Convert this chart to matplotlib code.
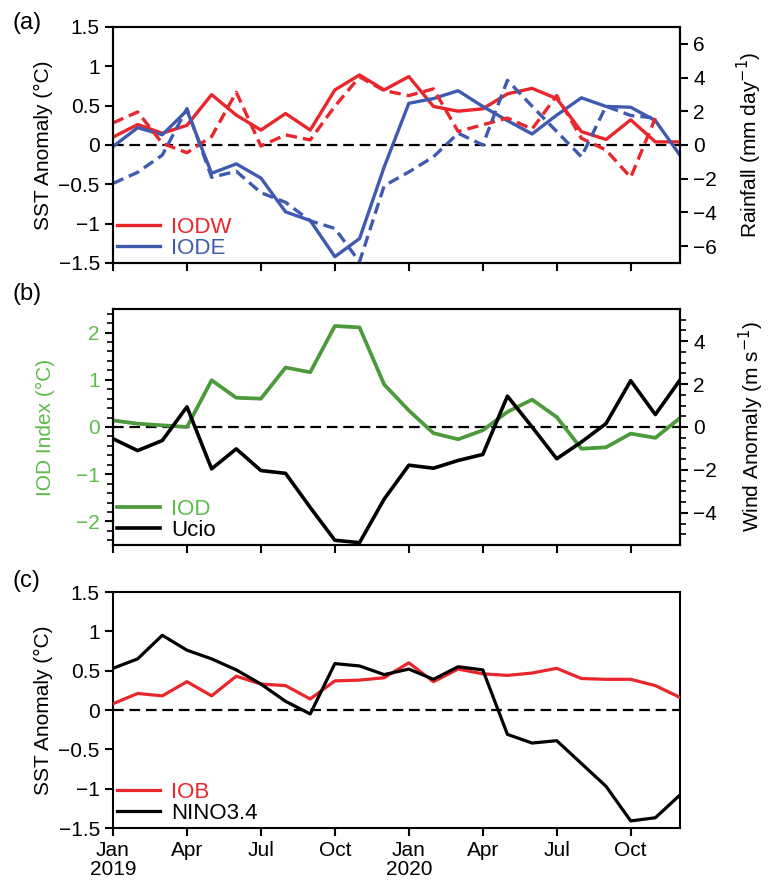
import numpy as np
import matplotlib
matplotlib.use("Agg")
import matplotlib.pyplot as plt

plt.rcParams['font.family'] = ['Liberation Sans', 'DejaVu Sans']
plt.rcParams['font.size'] = 15
plt.rcParams['axes.linewidth'] = 1.5

# monthly index, Jan 2019 .. Dec 2020
months = np.arange(24)
tick_pos = [0, 3, 6, 9, 12, 15, 18, 21]
tick_lab = ['Jan\n2019', 'Apr', 'Jul', 'Oct', 'Jan\n2020', 'Apr', 'Jul', 'Oct']

# (a) SST anomaly (left) and rainfall (right, dashed)
iodw_sst = [0.10, 0.26, 0.15, 0.25, 0.64, 0.38, 0.19, 0.40, 0.19, 0.70, 0.89, 0.70, 0.87,
            0.49, 0.43, 0.46, 0.65, 0.72, 0.59, 0.17, 0.07, 0.32, 0.04, 0.04]
iode_sst = [-0.02, 0.22, 0.13, 0.44, -0.36, -0.24, -0.42, -0.85, -0.96, -1.42, -1.19, -0.28,
            0.53, 0.59, 0.69, 0.49, 0.31, 0.14, 0.38, 0.60, 0.49, 0.48, 0.31, -0.13]
iodw_rain = [1.31, 1.96, 0.1, -0.46, 0.5, 3.13, -0.06, 0.6, 0.3, 2.3, 4.04, 3.23, 2.93,
             3.33, 0.8, 1.2, 1.6, 0.95, 2.93, 0.4, -0.3, -1.92, 1.6]
iode_rain = [-2.28, -1.62, -0.6, 2.16, -1.92, -1.56, -2.83, -3.4, -4.5, -4.95, -6.93, -2.42,
             -1.6, -0.7, 0.7, 0.0, 3.84, 2.3, 0.8, -0.7, 2.3, 1.75, 1.6]

# (b) IOD index (left) and Ucio wind (right)
iod = [0.14, 0.07, 0.035, 0.0, 0.99, 0.62, 0.60, 1.26, 1.16, 2.14, 2.11, 0.90, 0.35,
       -0.13, -0.26, -0.07, 0.32, 0.58, 0.21, -0.46, -0.43, -0.14, -0.23, 0.19]
ucio = [-0.55, -1.1, -0.63, 0.94, -1.95, -1.02, -2.03, -2.16, -3.75, -5.28, -5.39, -3.36,
        -1.78, -1.92, -1.56, -1.28, 1.44, 0.0, -1.48, -0.7, 0.16, 2.16, 0.58, 2.19]

# (c) IOB and NINO3.4
iob = [0.08, 0.21, 0.18, 0.36, 0.18, 0.43, 0.33, 0.31, 0.14, 0.37, 0.38, 0.41, 0.6,
       0.36, 0.52, 0.46, 0.44, 0.47, 0.53, 0.40, 0.39, 0.39, 0.31, 0.16]
nino34 = [0.53, 0.65, 0.95, 0.76, 0.65, 0.51, 0.33, 0.11, -0.05, 0.59, 0.56, 0.45, 0.52,
          0.39, 0.55, 0.51, -0.31, -0.42, -0.39, -0.68, -0.97, -1.41, -1.37, -1.08]

red = '#E8262B'
blue = '#3F5AAE'
green_line = '#4C9A3B'
green_txt = '#5DBB4A'

W, H = 775, 880
fig = plt.figure(figsize=(W / 100, H / 100), dpi=100)


def box(top, bottom, left=113, right=680):
    return [left / W, 1 - bottom / H, (right - left) / W, (bottom - top) / H]


def style(ax, labels=False):
    ax.set_xlim(0, 23)
    ax.set_xticks(tick_pos)
    ax.tick_params(direction='out', length=6, width=1.5)
    if labels:
        ax.set_xticklabels(tick_lab, fontsize=15, linespacing=1.0)
    else:
        ax.set_xticklabels([])
    ax.axhline(0, color='k', lw=1.6, dashes=(4.8, 2.6), zorder=1)


def fmt(vals):
    return [('%g' % v).replace('-', '\u2212') for v in vals]


sst_ticks = [-1.5, -1, -0.5, 0, 0.5, 1, 1.5]
leg_kw = dict(loc='lower left', frameon=False, handlelength=1.9, handletextpad=0.5,
              labelspacing=0.0, borderaxespad=0.0, borderpad=0.2, fontsize=16)

# ---- (a)
ax1 = fig.add_axes(box(27, 263))
style(ax1)
ax1.plot(months, iodw_sst, color=red, lw=2.4, label='IODW', zorder=3)
ax1.plot(months, iode_sst, color=blue, lw=2.4, label='IODE', zorder=3)
ax1.set_ylim(-1.5, 1.5)
ax1.set_yticks(sst_ticks)
ax1.set_yticklabels(fmt(sst_ticks))
ax1.set_ylabel('SST Anomaly (°C)', labelpad=4)
ax1.legend(labelcolor='linecolor', **leg_kw)
ax1r = ax1.twinx()
ax1r.plot(months[:23], iodw_rain, color=red, lw=2.4, dashes=(3.4, 1.8))
ax1r.plot(months[:23], iode_rain, color=blue, lw=2.4, dashes=(3.4, 1.8))
ax1r.set_ylim(-7, 7)
rain_ticks = [-6, -4, -2, 0, 2, 4, 6]
ax1r.set_yticks(rain_ticks)
ax1r.set_yticklabels(fmt(rain_ticks))
ax1r.tick_params(direction='out', length=6, width=1.5)
ax1r.set_ylabel('Rainfall (mm day$^{-1}$)', labelpad=13)
fig.text(13 / W, 1 - 23 / H, '(a)', fontsize=17, va='center')

# ---- (b)
ax2 = fig.add_axes(box(309, 545))
style(ax2)
ax2.plot(months, iod, color=green_line, lw=2.7, label='IOD', zorder=3)
ax2.set_ylim(-2.5, 2.5)
iod_ticks = [-2, -1, 0, 1, 2]
ax2.set_yticks(iod_ticks)
ax2.set_yticklabels(fmt(iod_ticks), color=green_txt)
ax2.set_yticks(np.arange(-2.4, 2.41, 0.2), minor=True)
ax2.tick_params(axis='y', which='minor', direction='out', length=4, width=1.2)
ax2.set_ylabel('IOD Index (°C)', color=green_txt, labelpad=15)
ax2r = ax2.twinx()
ax2r.plot(months, ucio, color='k', lw=2.6, label='Ucio', zorder=3)
ax2r.set_ylim(-5.5, 5.5)
wind_ticks = [-4, -2, 0, 2, 4]
ax2r.set_yticks(wind_ticks)
ax2r.set_yticklabels(fmt(wind_ticks))
ax2r.set_yticks(np.arange(-5.0, 5.01, 0.5), minor=True)
ax2r.tick_params(direction='out', length=6, width=1.5)
ax2r.tick_params(axis='y', which='minor', direction='out', length=4, width=1.2)
ax2r.set_ylabel('Wind Anomaly (m s$^{-1}$)', labelpad=14)
h1, l1 = ax2.get_legend_handles_labels()
h2, l2 = ax2r.get_legend_handles_labels()
ax2r.legend(h1 + h2, l1 + l2, labelcolor=[green_txt, 'k'], **leg_kw)
fig.text(13 / W, 1 - 294 / H, '(b)', fontsize=17, va='center')

# ---- (c)
ax3 = fig.add_axes(box(592, 828))
style(ax3, labels=True)
ax3.plot(months, iob, color=red, lw=2.3, label='IOB', zorder=3)
ax3.plot(months, nino34, color='k', lw=2.3, label='NINO3.4', zorder=3)
ax3.set_ylim(-1.5, 1.5)
ax3.set_yticks(sst_ticks)
ax3.set_yticklabels(fmt(sst_ticks))
ax3.set_ylabel('SST Anomaly (°C)', labelpad=4)
ax3.legend(labelcolor='linecolor', **leg_kw)
fig.text(13 / W, 1 - 581 / H, '(c)', fontsize=17, va='center')

fig.savefig('out.png', dpi=100)
